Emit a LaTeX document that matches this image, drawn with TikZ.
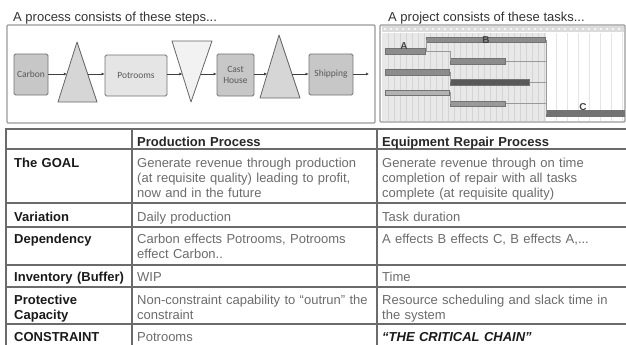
\documentclass[tikz,border=0pt]{standalone}
\usepackage{fontspec}
\setmainfont{Liberation Sans}
\newfontfamily\boxfont{Carlito}
\usetikzlibrary{calc,arrows.meta}
\begin{document}
\begin{tikzpicture}[x=1pt,y=-1pt,
  stepbox/.style={draw=black!55, line width=0.8pt, rounded corners=1.5pt, fill=black!22,
    font=\boxfont\fontsize{9.5}{10.5}\selectfont, text=black!65, align=center, inner sep=0pt},
  tri/.style={draw=black!60, line width=0.8pt, fill=black!16, line join=round},
  flow/.style={draw=black!75, line width=0.6pt, -{Latex[length=3pt,width=3pt]}},
  bar/.style={draw=black!55, fill=black!45, line width=0.5pt, minimum height=5.5pt, inner sep=0pt, anchor=west},
  glink/.style={draw=black!40, line width=0.6pt},
  glabel/.style={font=\bfseries\fontsize{10}{10}\selectfont, text=black!75, inner sep=0pt},
  cell/.style={anchor=base west, inner sep=0pt, align=left, text width=240pt,
    font=\fontsize{13}{15}\selectfont, text=black!58},
  lab/.style={cell, text width=120pt, text=black!90, font=\bfseries\fontsize{13}{15}\selectfont},
  head/.style={cell, text=black!85, font=\bfseries\fontsize{13}{15}\selectfont},
  tabrule/.style={draw=black!58, line width=1.3pt},
  title/.style={anchor=base west, inner sep=0pt, font=\fontsize{13}{13}\selectfont, text=black!80},
  frame/.style={draw=black!40, line width=1.4pt, rounded corners=1pt}
]
\useasboundingbox (0,0) rectangle (626,345);

% ---------------- titles ----------------
\node[title] (t1) at (13,22) {A process consists of these steps...};
\node[title] (t2) at (388,22) {A project consists of these tasks...};

% ---------------- process flow ----------------
\draw[frame] (7,25) rectangle (375,123);
\node[stepbox, minimum width=34pt, minimum height=41pt] (carbon) at (31,74.5) {Carbon};
\draw[tri] (77,42) -- (97,102) -- (58,102) -- cycle;
\coordinate (t1in) at (66.9,74); \coordinate (t1out) at (88.1,74);
\node[stepbox, fill=black!10, minimum width=62pt, minimum height=41pt] (pot) at (136,75.5) {Potrooms};
\draw[tri, fill=black!5] (172,41) -- (212,41) -- (191,102) -- cycle;
\coordinate (t2in) at (182.3,74); \coordinate (t2out) at (200.6,74);
\node[stepbox, minimum width=37pt, minimum height=42pt] (cast) at (235.5,75) {Cast\\House};
\draw[tri] (279,35) -- (300,98) -- (260,98) -- cycle;
\coordinate (t3in) at (267.2,74); \coordinate (t3out) at (292,74);
\node[stepbox, minimum width=44pt, minimum height=41pt] (ship) at (331,74.5) {Shipping};
\coordinate (out) at (369,74);

\draw[flow] (carbon.east |- t1in) -- (t1in);
\draw[flow] (t1out) -- (pot.west |- t1out);
\draw[flow] (pot.east |- t2in) -- (t2in);
\draw[flow] (t2out) -- (cast.west |- t2out);
\draw[flow] (cast.east |- t3in) -- (t3in);
\draw[flow] (t3out) -- (ship.west |- t3out);
\draw[flow] (ship.east |- out) -- (out);

% ---------------- gantt ----------------
\fill[black!9] (382,33) rectangle (546,121);
\foreach \x in {388,394,...,546} \draw[black!17, line width=0.4pt] (\x,33) -- (\x,121);
\foreach \x in {556,567,...,624} \draw[black!10, line width=0.5pt] (\x,33) -- (\x,121);
\fill[black!14] (382,26) rectangle (624,32);
\foreach \x in {385,391,...,622} \fill[white] (\x,29) circle (1.2pt);
\draw[frame, line width=1.2pt] (380,25) rectangle (625,122);

\node[bar, minimum width=119pt] (B) at (426,40) {};
\node[bar, minimum width=40pt] (A) at (385,51.5) {};
\node[bar, minimum width=55pt] (b3) at (450,61.5) {};
\node[bar, minimum width=64pt] (b4) at (385,72) {};
\node[bar, minimum width=79pt, fill=black!65] (b5) at (450,82) {};
\node[bar, minimum width=64pt, fill=black!30] (b6) at (385,92.5) {};
\node[bar, minimum width=55pt, fill=black!40] (b7) at (450,103.5) {};
\node[bar, minimum width=78pt, fill=black!55, minimum height=6pt] (C) at (546,113.5) {};

\draw[glink] (A.east) -| (B.west);
\draw[glink] (A.east) -| (b3.west);
\draw[glink] (b4.east) -| (b5.west);
\draw[glink] (b6.east) -| (b7.west);
\draw[glink] (B.east) -| (C.west);
\draw[glink] (b3.east) -- (b3.east -| C.west);
\draw[glink] (b5.east) -- (b5.east -| C.west);
\draw[glink] (b7.east) -- (b7.east -| C.west);

\node[glabel] (la) at (404,46) {A};
\node[glabel] (lb) at (486,40) {B};
\node[glabel] (lc) at (583,107) {C};

% ---------------- table ----------------
\draw[tabrule, line width=2pt] (6,129) -- (626,129);
\foreach \y in {149,203,227,265,287,324} \draw[tabrule] (6,\y) -- (626,\y);
\draw[tabrule, line width=1.8pt] (6,128) -- (6,345);
\draw[tabrule] (132,129) -- (132,345);
\draw[tabrule] (377,129) -- (377,345);

\node[head] (h2) at (137,146) {Production Process};
\node[head] (h3) at (382,146) {Equipment Repair Process};

\node[lab] (r1) at (14,167) {The GOAL};
\node[cell] (r1b) at (137,167) {Generate revenue through production\\(at requisite quality) leading to profit,\\now and in the future};
\node[cell] (r1c) at (382,167) {Generate revenue through on time\\completion of repair with all tasks\\complete (at requisite quality)};

\node[lab] (r2) at (14,221) {Variation};
\node[cell] (r2b) at (137,221) {Daily production};
\node[cell] (r2c) at (382,221) {Task duration};

\node[lab] (r3) at (14,243) {Dependency};
\node[cell] (r3b) at (137,243) {Carbon effects Potrooms, Potrooms\\effect Carbon..};
\node[cell] (r3c) at (382,243) {A effects B effects C, B effects A,...};

\node[lab] (r4) at (14,281) {Inventory (Buffer)};
\node[cell] (r4b) at (137,281) {WIP};
\node[cell] (r4c) at (382,281) {Time};

\node[lab] (r5) at (14,304) {Protective\\Capacity};
\node[cell] (r5b) at (137,304) {Non-constraint capability to “outrun” the\\constraint};
\node[cell] (r5c) at (382,304) {Resource scheduling and slack time in\\the system};

\node[lab] (r6) at (14,341) {CONSTRAINT};
\node[cell] (r6b) at (137,341) {Potrooms};
\node[cell, text=black!90, font=\bfseries\itshape\fontsize{13}{15}\selectfont] (r6c) at (382,341) {“THE CRITICAL CHAIN”};
\end{tikzpicture}
\end{document}
